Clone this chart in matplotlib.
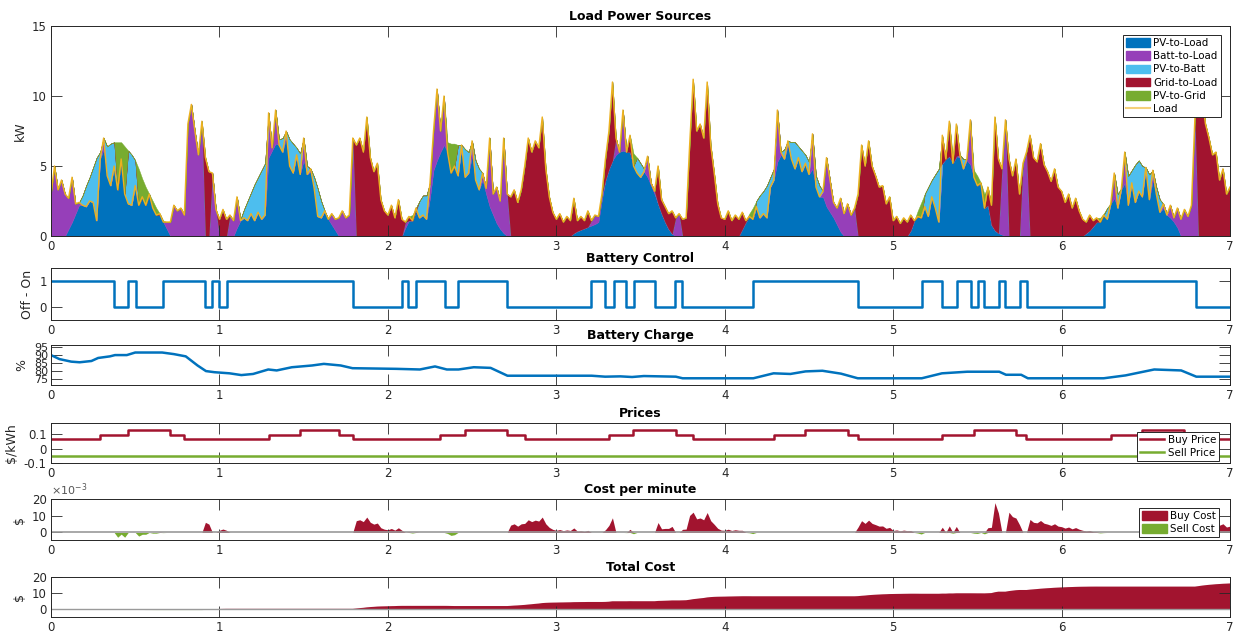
import numpy as np
import matplotlib
matplotlib.use("Agg")
import matplotlib.pyplot as plt
from matplotlib.patches import Patch
from matplotlib.lines import Line2D
from matplotlib.ticker import FuncFormatter

# household load, kW, half-hour samples (one list per day)
load_d0 = [3.0, 5.0, 3.3, 4.0, 3.0, 2.7, 4.2, 2.3, 2.4, 2.2,
           2.1, 2.5, 2.4, 1.1, 5.5, 7.0, 4.3, 3.6, 5.0, 3.3,
           5.5, 3.0, 2.3, 2.2, 3.6, 2.2, 2.8, 2.2, 3.0, 2.0,
           1.5, 1.6, 1.0, 1.0, 1.0, 2.2, 1.8, 2.0, 1.5, 8.0,
           9.4, 7.5, 5.8, 8.2, 5.6, 4.6, 4.5, 1.9]
load_d1 = [1.2, 1.9, 1.2, 1.5, 1.1, 2.8, 1.1, 1.3, 1.1, 1.6,
           1.1, 1.7, 1.2, 1.5, 8.8, 6.3, 9.0, 6.5, 6.0, 7.5,
           5.0, 4.5, 5.8, 4.4, 7.0, 4.4, 4.8, 3.4, 1.4, 1.3,
           1.8, 1.2, 1.6, 1.2, 1.3, 1.8, 1.3, 1.5, 7.0, 6.5,
           7.0, 6.0, 8.5, 5.6, 4.6, 5.2, 2.6, 1.8]
load_d2 = [1.5, 2.2, 1.3, 2.6, 1.2, 1.0, 1.4, 1.1, 2.0, 1.3,
           1.5, 1.2, 3.8, 7.5, 10.5, 7.5, 10.0, 6.0, 4.5, 5.0,
           4.3, 6.5, 4.2, 4.5, 6.8, 4.0, 3.3, 4.5, 3.4, 7.0,
           3.0, 3.5, 2.5, 7.0, 3.0, 2.8, 3.3, 2.4, 3.3, 5.0,
           7.0, 6.0, 6.8, 6.3, 8.5, 4.8, 2.8, 1.7]
load_d3 = [1.2, 1.6, 1.0, 1.4, 1.1, 2.7, 1.1, 1.4, 1.1, 1.8,
           1.1, 1.5, 1.4, 3.0, 5.5, 7.5, 11.0, 7.0, 6.0, 9.0,
           6.0, 7.2, 5.0, 4.5, 4.2, 4.6, 5.7, 3.8, 3.2, 5.0,
           2.6, 2.1, 1.6, 1.8, 1.3, 1.6, 1.2, 1.3, 6.5, 11.2,
           7.5, 8.0, 7.0, 11.0, 6.5, 4.5, 2.3, 1.3]
load_d4 = [1.2, 1.8, 1.1, 1.5, 1.2, 1.7, 1.1, 1.4, 1.2, 2.1,
           1.3, 1.6, 1.3, 3.5, 4.0, 9.0, 6.0, 5.5, 6.8, 5.5,
           4.8, 5.6, 4.6, 5.2, 4.4, 7.3, 3.5, 2.8, 3.2, 5.6,
           4.0, 2.4, 2.0, 2.7, 1.6, 2.3, 1.5, 2.0, 3.0, 6.5,
           5.0, 6.8, 5.0, 4.3, 3.5, 3.6, 2.3, 2.8]
load_d5 = [1.1, 1.4, 0.9, 1.3, 1.0, 1.5, 1.1, 1.4, 1.3, 2.1,
           1.4, 2.8, 2.0, 1.0, 7.2, 5.5, 8.2, 5.2, 8.0, 5.8,
           4.8, 5.5, 8.3, 4.2, 3.6, 3.8, 2.0, 3.5, 2.2, 8.5,
           5.5, 4.8, 8.3, 5.5, 4.3, 5.5, 3.0, 5.2, 6.0, 7.2,
           5.6, 5.3, 6.6, 5.1, 4.6, 3.9, 4.8, 3.5]
load_d6 = [3.2, 2.4, 3.0, 2.0, 2.7, 1.8, 1.2, 1.0, 1.5, 1.1,
           1.3, 1.0, 1.5, 1.2, 2.3, 4.5, 2.0, 3.3, 6.0, 2.2,
           3.8, 2.4, 3.2, 2.8, 4.9, 2.6, 4.7, 3.0, 1.7, 2.3,
           1.5, 2.2, 1.3, 2.0, 1.2, 1.9, 1.4, 2.2, 8.5, 9.0,
           10.0, 8.0, 7.0, 5.8, 6.0, 4.0, 4.8, 3.0, 3.5]

# PV output, kW, same sampling
pv_d0 = [0, 0, 0, 0, 0, 0.5, 1.0, 1.6, 2.2, 2.9,
         3.6, 4.2, 4.9, 5.6, 6.0, 6.2, 6.4, 6.6, 6.7, 6.7,
         6.7, 6.4, 6.1, 5.8, 5.4, 4.8, 4.1, 3.5, 3.0, 2.5,
         2.0, 1.5, 1.1, 0.5, 0, 0, 0, 0, 0, 0,
         0, 0, 0, 0, 0, 0, 0, 0]
pv_d1 = [0, 0, 0, 0, 0, 0.6, 1.2, 1.9, 2.5, 3.1,
         3.7, 4.2, 4.7, 5.2, 5.6, 6.1, 6.6, 6.9, 7.0, 7.0,
         6.9, 6.6, 6.3, 5.9, 5.4, 5.0, 4.6, 4.2, 3.4, 2.5,
         1.8, 1.2, 0.8, 0.4, 0, 0, 0, 0, 0, 0,
         0, 0, 0, 0, 0, 0, 0, 0]
pv_d2 = [0, 0, 0, 0, 0, 0.6, 1.1, 1.5, 1.8, 2.5,
         2.9, 2.9, 2.7, 4.7, 5.4, 6.0, 6.5, 6.7, 6.6, 6.6,
         6.5, 6.4, 6.2, 6.0, 5.7, 5.4, 4.8, 4.0, 3.0, 2.1,
         1.5, 0.9, 0.5, 0.2, 0, 0, 0, 0, 0, 0,
         0, 0, 0, 0, 0, 0, 0, 0]
pv_d3 = [0, 0, 0, 0, 0, 0.2, 0.35, 0.45, 0.55, 0.65,
         0.75, 0.85, 1.0, 2.6, 4.0, 4.8, 5.4, 5.8, 6.0, 6.1,
         6.1, 6.0, 5.9, 5.6, 5.2, 4.8, 4.2, 3.6, 3.0, 2.3,
         1.6, 1.0, 0.5, 0.15, 0, 0, 0, 0, 0, 0,
         0, 0, 0, 0, 0, 0, 0, 0]
pv_d4 = [0, 0, 0, 0, 0, 0.5, 1.0, 1.6, 2.0, 2.5,
         2.9, 3.2, 3.6, 4.2, 4.8, 5.3, 5.8, 6.2, 6.5, 6.7,
         6.7, 6.4, 6.1, 5.8, 5.3, 4.8, 4.3, 3.6, 2.8, 2.1,
         1.7, 1.3, 0.8, 0.3, 0, 0, 0, 0, 0, 0,
         0, 0, 0, 0, 0, 0, 0, 0]
pv_d5 = [0, 0, 0, 0, 0, 0.4, 1.1, 1.8, 2.4, 3.0,
         3.5, 4.0, 4.4, 4.8, 5.2, 5.6, 5.7, 5.7, 5.7, 5.6,
         5.5, 5.4, 5.1, 4.7, 4.3, 3.8, 3.0, 2.2, 0.8, 0.4,
         0.2, 0.1, 0, 0, 0, 0, 0, 0, 0, 0,
         0, 0, 0, 0, 0, 0, 0, 0]
pv_d6 = [0, 0, 0, 0, 0, 0, 0, 0.2, 0.4, 0.7,
         1.0, 1.3, 1.6, 2.0, 2.3, 2.7, 3.0, 3.4, 3.8, 4.3,
         4.7, 5.1, 5.4, 5.0, 4.8, 4.4, 4.0, 3.5, 2.6, 2.0,
         1.6, 1.3, 1.0, 0.6, 0, 0, 0, 0, 0, 0,
         0, 0, 0, 0, 0, 0, 0, 0, 0]

# battery enable switching times (days) and state after each switch
ctrl_times = [0, 0.376, 0.455, 0.502, 0.667, 0.915, 0.958, 0.995, 1.042, 1.793,
              2.085, 2.122, 2.169, 2.338, 2.415, 2.709, 3.207, 3.289, 3.345, 3.413,
              3.460, 3.585, 3.707, 3.749, 4.169, 4.791, 5.169, 5.291, 5.378, 5.462,
              5.502, 5.540, 5.627, 5.667, 5.756, 5.796, 6.254, 6.798, 7.0]
ctrl_state = [1, 0, 1, 0, 1, 0, 1, 0, 1, 0,
              1, 0, 1, 0, 1, 0, 1, 0, 1, 0,
              1, 0, 1, 0, 1, 0, 1, 0, 1, 0,
              1, 0, 1, 0, 1, 0, 1, 0, 0]

# battery state of charge (%)
soc_t = [0, 0.05, 0.12, 0.17, 0.24, 0.28, 0.35, 0.38, 0.45, 0.5,
         0.66, 0.73, 0.8, 0.87, 0.92, 0.97, 1.06, 1.13, 1.2, 1.29,
         1.34, 1.43, 1.55, 1.62, 1.72, 1.79, 2.05, 2.19, 2.28, 2.35,
         2.42, 2.51, 2.61, 2.71, 3.21, 3.29, 3.38, 3.45, 3.52, 3.71,
         3.75, 4.17, 4.29, 4.39, 4.48, 4.58, 4.69, 4.79, 5.17, 5.29,
         5.44, 5.63, 5.67, 5.76, 5.80, 6.25, 6.38, 6.55, 6.71, 6.80, 7.0]
soc_pct = [89.7, 87.2, 85.6, 85.2, 86.0, 87.9, 88.9, 89.7, 89.7, 91.3,
           91.3, 90.3, 88.9, 83.2, 79.7, 79.0, 78.3, 77.2, 77.9, 80.7,
           80.1, 82.1, 83.2, 84.2, 83.2, 81.5, 81.1, 80.7, 82.6, 80.7,
           80.7, 82.1, 81.7, 76.8, 76.8, 76.2, 76.4, 76.0, 76.6, 76.2,
           75.2, 75.2, 78.3, 77.9, 79.5, 79.9, 78.1, 75.2, 75.2, 78.3,
           79.3, 79.3, 77.4, 77.4, 75.2, 75.2, 77.0, 80.7, 80.1, 76.2, 76.2]

# time-of-use tariff: hour each rate starts, $/kWh
tou_hours = [0, 7, 11, 17, 19]
tou_rates = [0.065, 0.094, 0.132, 0.094, 0.065]
sell_rate = -0.05

steps_per_day = 48
minutes_per_step = 30

C_PV_LOAD = '#0072BD'
C_BATT_LOAD = '#963FB9'
C_PV_BATT = '#4DBEEE'
C_GRID_LOAD = '#A2142F'
C_PV_GRID = '#77AC30'
C_LOAD = '#EDB120'
C_AX = '#262626'


def style_axes(ax):
    ax.set_xlim(0, 7)
    ax.set_xticks(range(8))
    ax.tick_params(direction='in', length=8, width=0.6, top=True, right=True,
                   labelsize=8.5, colors=C_AX, pad=3)
    for s in ax.spines.values():
        s.set_color(C_AX)
        s.set_linewidth(0.7)


def legend(ax, handles, loc, pad=0.4, anchor=None):
    kw = {}
    if anchor is not None:
        kw['bbox_to_anchor'] = anchor
    lg = ax.legend(handles=handles, loc=loc, fontsize=7.4, fancybox=False,
                   framealpha=1, edgecolor=C_AX, borderaxespad=pad,
                   handlelength=2.4, handleheight=0.95, handletextpad=0.3,
                   labelspacing=0.3, borderpad=0.3, **kw)
    lg.get_frame().set_linewidth(0.7)
    return lg


if __name__ == '__main__':
    plt.rcParams['font.family'] = 'DejaVu Sans'
    plt.rcParams['axes.unicode_minus'] = False

    load = np.concatenate([load_d0, load_d1, load_d2, load_d3, load_d4, load_d5, load_d6])
    pv = np.concatenate([pv_d0, pv_d1, pv_d2, pv_d3, pv_d4, pv_d5, pv_d6])
    t = np.arange(len(load)) / steps_per_day

    # battery state at each sample
    idx = np.searchsorted(ctrl_times, t, side='right') - 1
    batt_on = np.array(ctrl_state)[idx] == 1

    # split power flows
    pv_load = np.minimum(load, pv)
    deficit = load - pv_load
    excess = pv - pv_load
    batt_load = np.where(batt_on, deficit, 0)
    grid_load = np.where(batt_on, 0, deficit)
    pv_batt = np.where(batt_on, excess, 0)
    pv_grid = np.where(batt_on, 0, excess)

    # prices and costs
    hour = (t % 1) * 24
    buy = np.array(tou_rates)[np.searchsorted(tou_hours, hour, side='right') - 1]
    sell = np.full_like(t, sell_rate)
    buy_cost = grid_load * buy / 60
    sell_cost = pv_grid * sell / 60
    total = np.cumsum(buy_cost + sell_cost) * minutes_per_step

    fig = plt.figure(figsize=(12.39, 6.35), dpi=100)
    W, H = 1239, 635
    left, width = 51 / W, 1179 / W

    def add(top, bottom):
        return fig.add_axes([left, 1 - bottom / H, width, (bottom - top) / H])

    ax1 = add(26, 236)
    ax2 = add(268, 320)
    ax3 = add(345, 385)
    ax4 = add(423, 463)
    ax5 = add(499, 540)
    ax6 = add(577, 617)

    # load power sources
    ax1.stackplot(t, pv_load, batt_load, pv_batt, grid_load, pv_grid,
                  colors=[C_PV_LOAD, C_BATT_LOAD, C_PV_BATT, C_GRID_LOAD, C_PV_GRID],
                  edgecolor='face', linewidth=0.3)
    ax1.plot(t, load, color=C_LOAD, lw=1.0)
    style_axes(ax1)
    ax1.set_ylim(0, 15)
    ax1.set_yticks([0, 5, 10, 15])
    ax1.set_ylabel('kW', fontsize=9, color=C_AX)
    ax1.set_title('Load Power Sources', fontsize=9, fontweight='bold', pad=4)
    legend(ax1, [Patch(color=C_PV_LOAD, label='PV-to-Load'),
                 Patch(color=C_BATT_LOAD, label='Batt-to-Load'),
                 Patch(color=C_PV_BATT, label='PV-to-Batt'),
                 Patch(color=C_GRID_LOAD, label='Grid-to-Load'),
                 Patch(color=C_PV_GRID, label='PV-to-Grid'),
                 Line2D([], [], color=C_LOAD, lw=1.5, alpha=0.6, label='Load')],
           'upper right', pad=0.9)

    # battery control
    ax2.step(ctrl_times, ctrl_state, where='post', color=C_PV_LOAD, lw=1.8)
    style_axes(ax2)
    ax2.set_ylim(-0.5, 1.5)
    ax2.set_yticks([0, 1])
    ax2.set_ylabel('Off - On', fontsize=9, color=C_AX)
    ax2.set_title('Battery Control', fontsize=9, fontweight='bold', pad=4)

    # battery charge
    ax3.plot(soc_t, soc_pct, color=C_PV_LOAD, lw=1.8)
    style_axes(ax3)
    ax3.set_ylim(71, 96)
    ax3.set_yticks([75, 80, 85, 90, 95])
    ax3.tick_params(axis='y', labelsize=8, pad=2)
    ax3.set_ylabel('%', fontsize=9, color=C_AX)
    ax3.set_title('Battery Charge', fontsize=9, fontweight='bold', pad=4)

    # prices
    ax4.plot(t, buy, drawstyle='steps-post', color=C_GRID_LOAD, lw=1.8, label='Buy Price')
    ax4.plot(t, sell, color=C_PV_GRID, lw=1.8, label='Sell Price')
    style_axes(ax4)
    ax4.set_ylim(-0.1, 0.18)
    ax4.set_yticks([-0.1, 0, 0.1])
    ax4.set_yticklabels(['-0.1', '0', '0.1'])
    ax4.set_ylabel('$/kWh', fontsize=9, color=C_AX)
    ax4.set_title('Prices', fontsize=9, fontweight='bold', pad=4)
    legend(ax4, ax4.get_legend_handles_labels()[0], 'lower right', pad=0,
           anchor=(1 - 11 / 1179, 2 / 40))

    # cost per minute
    ax5.fill_between(t, 0, buy_cost, color=C_GRID_LOAD, lw=0, label='Buy Cost')
    ax5.fill_between(t, 0, sell_cost, color=C_PV_GRID, lw=0, label='Sell Cost')
    ax5.axhline(0, color='#9a9a9a', lw=1.2)
    style_axes(ax5)
    ax5.set_ylim(-0.0045, 0.02)
    ax5.set_yticks([0, 0.01, 0.02])
    ax5.yaxis.set_major_formatter(FuncFormatter(lambda v, p: '%d' % round(v * 1000)))
    ax5.text(0, 1.03, r'$\times10^{-3}$', transform=ax5.transAxes, fontsize=8,
             color='#555555', va='bottom')
    ax5.set_ylabel('$', fontsize=9, color=C_AX)
    ax5.set_title('Cost per minute', fontsize=9, fontweight='bold', pad=4)
    legend(ax5, [Patch(color=C_GRID_LOAD, label='Buy Cost'),
                 Patch(color=C_PV_GRID, label='Sell Cost')], 'lower right', pad=0,
           anchor=(1 - 11 / 1179, 3 / 41))

    # total cost
    ax6.fill_between(t, 0, total, where=total >= 0, interpolate=True,
                     color=C_GRID_LOAD, lw=0)
    ax6.fill_between(t, 0, total, where=total < 0, interpolate=True,
                     color=C_PV_GRID, lw=0)
    ax6.axhline(0, color='#9a9a9a', lw=1.0)
    style_axes(ax6)
    ax6.set_ylim(-5, 20)
    ax6.set_yticks([0, 10, 20])
    ax6.set_ylabel('$', fontsize=9, color=C_AX)
    ax6.set_title('Total Cost', fontsize=9, fontweight='bold', pad=4)

    fig.savefig('out.png', dpi=100)
